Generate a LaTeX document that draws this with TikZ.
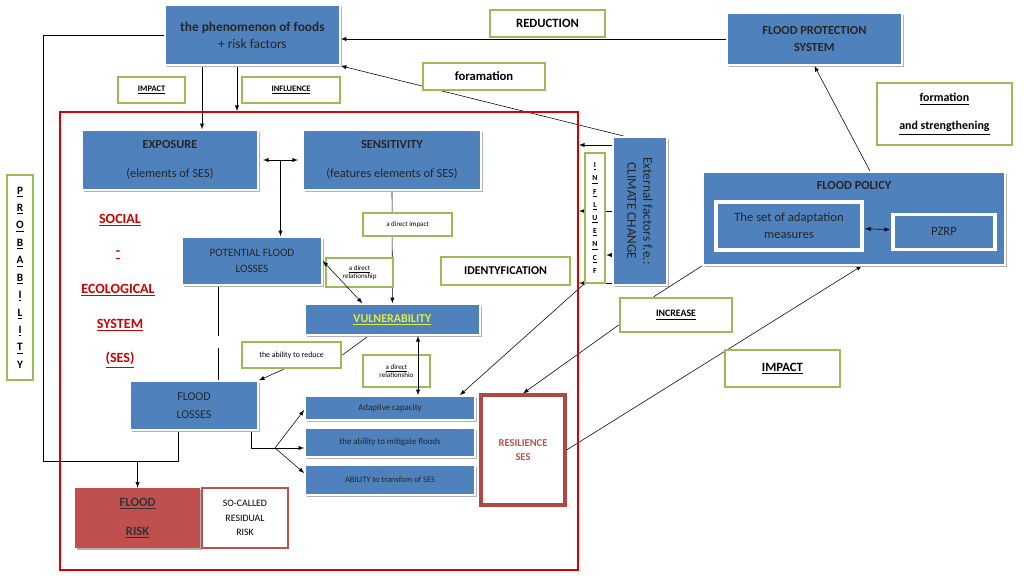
\documentclass[tikz,border=0pt]{standalone}
\usepackage{fontspec}
\setmainfont{Carlito}
\usepackage{xcolor}
\usetikzlibrary{shapes,arrows,positioning,fit,backgrounds,calc,shadows}
\definecolor{boxblue}{HTML}{4F81BD}
\definecolor{taggreen}{HTML}{9BBB59}
\definecolor{riskred}{HTML}{C0504D}
\definecolor{vulnyellow}{HTML}{E2EE3C}

\begin{document}
\begin{tikzpicture}[x=1cm, y=-1cm,
  bluebox/.style={rectangle, fill=boxblue, draw=white, line width=1.2pt,
    text=black!85, align=center, inner sep=1pt,
    drop shadow={shadow xshift=1.6pt, shadow yshift=-1.6pt, fill=black!30, opacity=1}},
  innerbox/.style={rectangle, fill=boxblue, draw=white, line width=2.2pt,
    text=black!85, align=center, inner sep=1pt},
  tag/.style={rectangle, draw=taggreen, line width=1.8pt, fill=white,
    align=center, inner sep=1pt},
  redbox/.style={rectangle, draw=riskred, line width=1.8pt, fill=white, align=center},
  sestext/.style={text=red!80!black, font=\bfseries\fontsize{10}{12}\selectfont},
  arrow/.style={->, >=latex},
  dblarrow/.style={<->, >=latex}
]
\useasboundingbox (0,0) rectangle (25.6,14.45);

\node[draw=red!85!black, line width=1.4pt, minimum width=12.95cm, minimum height=11.45cm] (ses) at (7.975,8.525) {};

\node[bluebox, minimum width=4.375cm, minimum height=1.5cm, font=\fontsize{9.5}{12}\selectfont] (phen) at (6.31,0.875) {\textbf{the phenomenon of foods}\\+ risk factors};
\node[tag, minimum width=2.875cm, minimum height=0.675cm, font=\bfseries\fontsize{9}{11}\selectfont] (reduction) at (13.69,0.59) {REDUCTION};
\node[bluebox, minimum width=4.375cm, minimum height=1.3cm, font=\bfseries\fontsize{8.8}{12}\selectfont] (fps) at (20.36,0.975) {FLOOD PROTECTION\\SYSTEM};
\node[tag, minimum width=3.05cm, minimum height=0.675cm, font=\bfseries\fontsize{9}{11}\selectfont] (foram) at (12.1,1.91) {foramation};
\node[tag, minimum width=3.375cm, minimum height=1.55cm, font=\bfseries\fontsize{8.5}{20}\selectfont] (formstr) at (23.61,2.85) {\underline{formation}\\\underline{and strengthening}};
\node[tag, minimum width=1.675cm, minimum height=0.65cm, font=\bfseries\fontsize{6}{7}\selectfont] (impacttag) at (3.79,2.25) {\underline{IMPACT}};
\node[tag, minimum width=2.45cm, minimum height=0.65cm, font=\bfseries\fontsize{6}{7}\selectfont] (influencetag) at (7.275,2.25) {\underline{INFLUENCE}};

\node[bluebox, minimum width=4.4cm, minimum height=1.5cm, font=\fontsize{8.8}{21}\selectfont] (exposure) at (4.25,4.0) {\textbf{EXPOSURE}\\(elements of SES)};
\node[bluebox, minimum width=4.45cm, minimum height=1.5cm, font=\fontsize{8.8}{21}\selectfont] (sensitivity) at (9.8,4.0) {\textbf{SENSITIVITY}\\(features elements of SES)};
\coordinate (mid) at ($(exposure.east)!0.5!(sensitivity.west)$);
\node[tag, minimum width=2.225cm, minimum height=0.575cm, font=\fontsize{5}{6}\selectfont] (dimpact) at (10.19,5.61) {a direct impact};
\node[bluebox, minimum width=3.5cm, minimum height=1.2cm, font=\fontsize{8}{11.5}\selectfont] (pfl) at (6.3,6.525) {POTENTIAL FLOOD\\LOSSES};
\node[tag, minimum width=1.675cm, minimum height=0.725cm, font=\fontsize{5}{6}\selectfont] (drel1) at (8.99,6.81) {\underline{a direct}\\relationship};
\node[tag, minimum width=3.225cm, minimum height=0.7cm, font=\bfseries\fontsize{8.5}{10}\selectfont] (ident) at (12.64,6.775) {IDENTYFICATION};
\node[bluebox, minimum width=4.375cm, minimum height=0.775cm, font=\bfseries\fontsize{8.5}{10}\selectfont, text=vulnyellow] (vuln) at (9.81,7.99) {\underline{VULNERABILITY}};
\node[tag, minimum width=2.475cm, minimum height=0.65cm, font=\fontsize{5.6}{7}\selectfont] (reduce) at (7.29,8.875) {the ability to reduce};
\node[tag, minimum width=1.675cm, minimum height=0.8cm, font=\fontsize{5}{6}\selectfont] (drel2) at (9.91,9.275) {\underline{a direct}\\relationshio};
\node[bluebox, minimum width=3.2cm, minimum height=1.225cm, font=\fontsize{8.5}{12.5}\selectfont] (floss) at (4.85,10.14) {FLOOD\\LOSSES};
\node[bluebox, minimum width=4.25cm, minimum height=0.6cm, font=\fontsize{6.3}{7}\selectfont] (adapt) at (9.75,10.2) {Adaptive capacity};
\node[bluebox, minimum width=4.25cm, minimum height=0.725cm, font=\fontsize{6.3}{7}\selectfont] (mitig) at (9.75,11.06) {the ability to mitigate floods};
\node[bluebox, minimum width=4.25cm, minimum height=0.75cm, font=\fontsize{6}{7}\selectfont] (transf) at (9.75,12.0) {ABILITY to transfom of SES};
\node[redbox, draw=riskred!90!black, line width=2.2pt, minimum width=2.1cm, minimum height=2.75cm, font=\bfseries\fontsize{7.5}{10.5}\selectfont, text=riskred] (resil) at (13.075,11.25) {RESILIENCE\\SES};
\node[rectangle, fill=riskred, minimum width=3.125cm, minimum height=1.5cm, align=center, text=black!80, font=\bfseries\fontsize{9}{20.5}\selectfont, drop shadow={shadow xshift=1.6pt, shadow yshift=-1.6pt, fill=black!30, opacity=1}] (frisk) at (3.44,12.95) {\underline{FLOOD}\\\underline{RISK}};
\node[redbox, minimum width=2.15cm, minimum height=1.5cm, font=\fontsize{7}{10.3}\selectfont] (residual) at (6.125,12.95) {SO-CALLED\\RESIDUAL\\RISK};

\node[sestext] (social) at (3.0,5.5) {\underline{SOCIAL}};
\node[sestext] (dash) at (2.95,6.375) {\underline{-}};
\node[sestext] (ecological) at (2.95,7.25) {\underline{ECOLOGICAL}};
\node[sestext] (system) at (3.0,8.125) {\underline{SYSTEM}};
\node[sestext] (sesabbr) at (3.0,9.0) {\underline{(SES)}};

\node[tag, minimum width=0.65cm, minimum height=5.125cm, font=\bfseries\fontsize{8}{12.4}\selectfont] (prob) at (0.5,6.94) {\underline{P}\\\underline{R}\\\underline{O}\\\underline{B}\\\underline{A}\\\underline{B}\\\underline{I}\\\underline{L}\\\underline{I}\\\underline{T}\\Y};
\node[tag, inner sep=0pt, minimum width=0.5cm, minimum height=3.25cm, font=\bfseries\fontsize{5.5}{9.4}\selectfont] (infl) at (14.875,5.45) {\underline{I}\\\underline{N}\\\underline{F}\\\underline{L}\\\underline{U}\\\underline{E}\\\underline{N}\\\underline{C}\\F};
\node[bluebox, rotate=-90, minimum width=3.7cm, minimum height=1.35cm, font=\fontsize{9.5}{11.5}\selectfont] (ext) at (16.0,5.275) {External factors f.e.:\\CLIMATE CHANGE};

\node[bluebox, minimum width=7.55cm, minimum height=2.325cm] (policy) at (21.35,5.46) {};
\node[font=\bfseries\fontsize{8.8}{10}\selectfont, text=black!85] (policytitle) at (21.35,4.625) {FLOOD POLICY};
\node[innerbox, minimum width=3.65cm, minimum height=1.2cm, font=\fontsize{9}{12}\selectfont] (adaptset) at (19.725,5.65) {The set of adaptation\\measures};
\node[innerbox, minimum width=2.55cm, minimum height=0.875cm, font=\fontsize{9}{11}\selectfont] (pzrp) at (23.6,5.79) {PZRP};
\node[tag, minimum width=2.8cm, minimum height=0.85cm, font=\bfseries\fontsize{7}{8}\selectfont] (increase) at (16.9,7.875) {\underline{INCREASE}};
\node[tag, minimum width=2.875cm, minimum height=0.925cm, font=\bfseries\fontsize{9}{11}\selectfont] (impactbig) at (19.56,9.21) {\underline{IMPACT}};

\coordinate (junc) at (4.45,11.525);
\coordinate (fork) at (6.875,11.2);

\begin{scope}[on background layer]
\draw[arrow] (fps.west) -- (fps.west -| phen.east);
\draw[arrow] ([xshift=0.3cm]ext.south west) -- (phen.south east);
\draw[arrow] (ext.south west |- 0,3.625) -- (ses.east |- 0,3.625);
\draw[arrow] (ext.south) -- (ext.south -| ses.east);
\draw[arrow] (ext.south west |- 0,7.075) -- (ses.east |- 0,7.075);
\draw[arrow] (ext.south west |- 0,6.375) -- (infl.east |- 0,6.375);
\draw[arrow] (infl.south west) -- ([xshift=-0.4cm]adapt.north east);
\draw (policy.south west) -- ([xshift=0.875cm]increase.north west);
\draw[arrow] ([yshift=-0.25cm]increase.west) -- (resil.north);
\draw[arrow] (resil.east) -- ([xshift=0.2cm]policy.south);
\draw[arrow] ([xshift=0.4cm]policy.north) -- (fps.south);
\draw[arrow] (phen.south -| 5.05,0) -- (exposure.north -| 5.05,0);
\draw[arrow] (phen.south -| 5.925,0) -- (ses.north -| 5.925,0);
\draw[arrow] (sensitivity.south) -- (vuln.north);
\draw[arrow] (mid) -- (mid |- pfl.north);
\draw ([xshift=-0.6cm]vuln.south) -- (reduce.east);
\draw[arrow] ([xshift=-0.2cm]reduce.south) -- (floss.north east);
\draw[dash pattern=on 36pt off 8pt] (pfl.south -| 5.45,0) -- (floss.north -| 5.45,0);
\draw (floss.south -| junc) -- (junc) -- (1.075,11.525) |- (phen.west);
\draw[arrow] (frisk.north |- junc) -- (frisk.north);
\draw ([xshift=-0.2cm]floss.south east) |- (fork);
\draw[arrow] (fork) -- ([yshift=-0.05cm]adapt.west);
\draw[arrow] (fork) -- (fork -| mitig.west);
\draw[arrow] (fork) -- ([yshift=0.175cm]transf.west);
\end{scope}

\draw[dblarrow, shorten <=3pt, shorten >=3pt] (exposure.east) -- (sensitivity.west);
\draw[dblarrow] (pfl.east) -- ([xshift=-0.75cm]vuln.north);
\draw[dblarrow] (vuln.south -| 10.45,0) -- (adapt.north -| 10.45,0);
\draw[dblarrow, shorten <=1pt, shorten >=1pt] (adaptset) -- (pzrp);
\end{tikzpicture}
\end{document}
